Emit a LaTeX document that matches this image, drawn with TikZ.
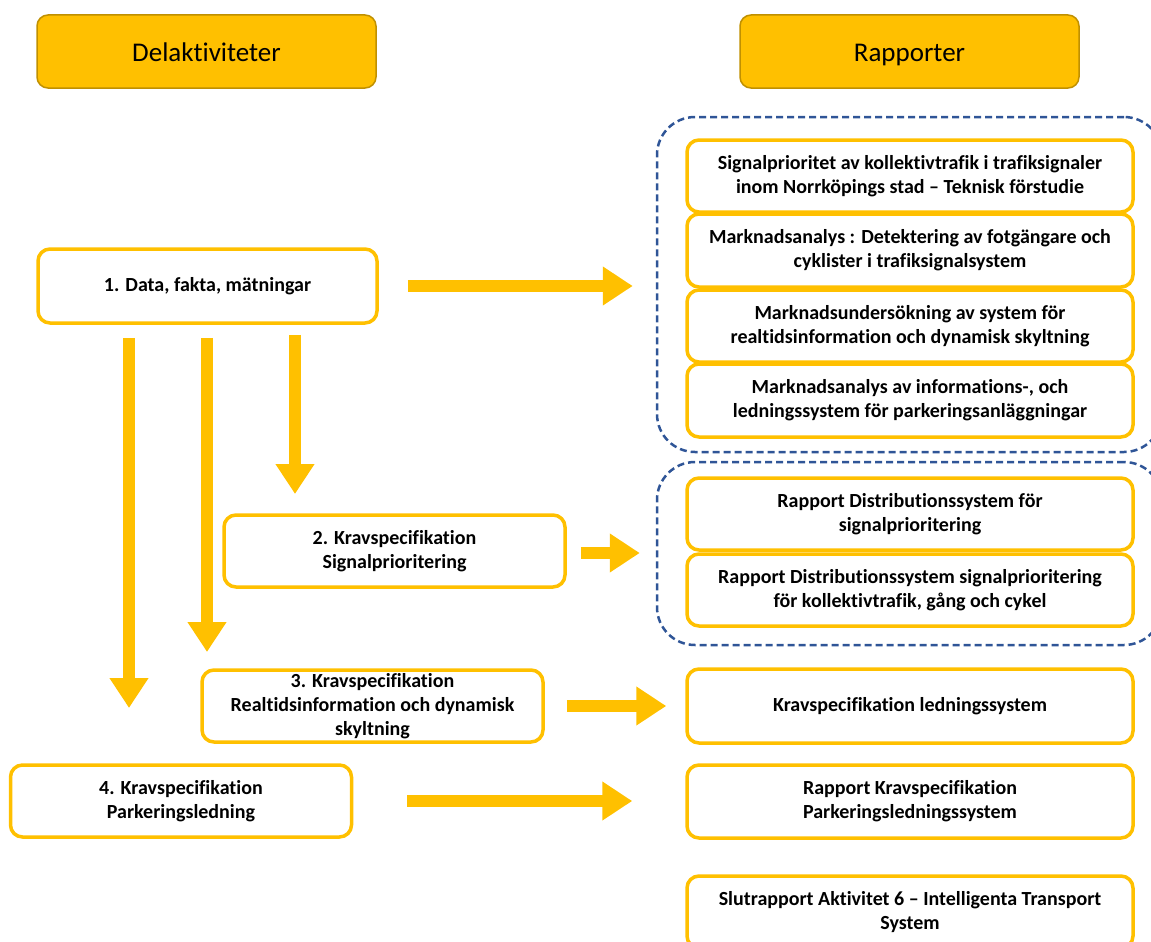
\documentclass[tikz,border=0pt]{standalone}
\usepackage{fontspec}
\setmainfont{Carlito}[Ligatures=NoCommon]
\usetikzlibrary{arrows.meta,calc}
\definecolor{gold}{HTML}{FFC000}
\definecolor{golddark}{HTML}{C09000}
\definecolor{dashblue}{HTML}{2F5597}
\begin{document}
\begin{tikzpicture}[x=1pt,y=-1pt,
  header/.style={draw=golddark, fill=gold, line width=1.5pt, rounded corners=11pt,
    minimum width=339pt, minimum height=73pt, inner sep=0pt, text height=21pt, text depth=0pt,
    font=\fontsize{27}{32}\selectfont},
  box/.style={draw=gold, fill=white, line width=3.5pt, rounded corners=12pt,
    inner sep=0pt, align=center, font=\fontsize{20}{24}\selectfont\bfseries},
  rbox/.style={box, minimum width=446pt, minimum height=72pt},
  lbox/.style={box, minimum width=341pt, minimum height=72pt},
  dashbox/.style={draw=dashblue, dashed, dash pattern=on 7pt off 4pt, line width=2.5pt,
    rounded corners=38pt, inner sep=0pt, minimum width=505pt},
  bigarrow/.style={draw=gold, line width=12pt, -{Triangle[length=30pt,width=37pt]}}
]
\useasboundingbox (0,0) rectangle (1151,942);

% headers
\node[header] (hd1) at (206.5,51.5) {Delaktiviteter};
\node[header] (hd2) at (909.5,51.5) {Rapporter};

% dashed groups
\node[dashbox, minimum height=335pt] (d1) at (909.5,284.5) {};
\node[dashbox, minimum height=183pt] (d2) at (909.5,553.5) {};

% left boxes
\node[lbox, minimum width=339pt, minimum height=74pt] (b1) at (207.5,286) {1. Data, fakta, mätningar};
\node[lbox] (b2) at (394.5,551) {2. Kravspecifikation\\Signalprioritering};
\node[lbox] (b3) at (372.5,706) {3. Kravspecifikation\\Realtidsinformation och dynamisk\\skyltning};
\node[lbox] (b4) at (181,801) {4. Kravspecifikation\\Parkeringsledning};

% right boxes
\node[rbox] (rA) at (910,176) {Signalprioritet av kollektivtrafik i trafiksignaler\\inom Norrköpings stad – Teknisk förstudie};
\node[rbox, minimum height=73pt] (rB) at (910,250.5) {Marknadsanalys : Detektering av fotgängare och\\cyklister i trafiksignalsystem};
\node[rbox] (rC) at (910,326) {Marknadsundersökning av system för\\realtidsinformation och dynamisk skyltning};
\node[rbox, minimum height=73pt] (rD) at (910,400.5) {Marknadsanalys av informations-, och\\ledningssystem för parkeringsanläggningar};
\node[rbox] (rE) at (910,514) {Rapport Distributionssystem för\\signalprioritering};
\node[rbox] (rF) at (910,590) {Rapport Distributionssystem signalprioritering\\för kollektivtrafik, gång och cykel};
\node[rbox, minimum height=74pt] (rG) at (910,706) {Kravspecifikation ledningssystem};
\node[rbox, minimum height=73pt] (rH) at (910,801.5) {Rapport Kravspecifikation\\Parkeringsledningssystem};
\node[rbox] (rI) at (910,912) {Slutrapport Aktivitet 6 – Intelligenta Transport\\System};

% horizontal arrows
\draw[bigarrow, shorten <=29pt, shorten >=23pt] (b1.east) -- (b1.east -| d1.west);
\draw[bigarrow, shorten <=14pt, shorten >=16pt] ([yshift=-2pt]b2.east) -- ([yshift=-2pt]b2.east -| d2.west);
\draw[bigarrow, shorten <=22pt, shorten >=19pt] (b3.east) -- (b3.east -| rG.west);
\draw[bigarrow, shorten <=54pt, shorten >=53pt] (b4.east) -- (b4.east -| rH.west);

% vertical arrows
\coordinate (e2) at (295,494);
\coordinate (e3) at (207,652);
\coordinate (e4) at (129,708);
\draw[bigarrow, shorten <=10pt] (b1.south -| e2) -- (e2);
\draw[bigarrow, shorten <=13pt] (b1.south -| e3) -- (e3);
\draw[bigarrow, shorten <=13pt] (b1.south -| e4) -- (e4);
\end{tikzpicture}
\end{document}
